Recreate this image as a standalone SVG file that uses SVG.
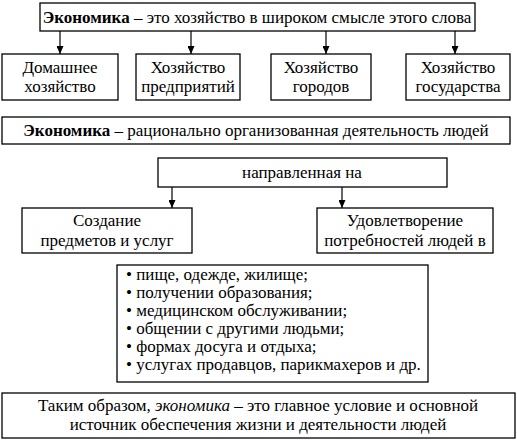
<svg xmlns="http://www.w3.org/2000/svg" width="517" height="440" viewBox="0 0 517 440" font-family="Times New Roman">
<defs>
<marker id="down" markerWidth="7" markerHeight="8" refX="3.5" refY="8" orient="0" markerUnits="userSpaceOnUse" viewBox="0 0 7 8">
<path d="M0,0 L7,0 L3.5,8 Z" fill="#000"/>
</marker>
<style>
.box{fill:#fff;stroke:#000;stroke-width:1.3}
.conn{stroke:#000;stroke-width:1.2;fill:none}
</style>
</defs>
<rect width="517" height="440" fill="#fff"/>
<g id="connectors">
<line class="conn" x1="60" y1="31" x2="60" y2="54" marker-end="url(#down)"/>
<line class="conn" x1="191" y1="31" x2="191" y2="54" marker-end="url(#down)"/>
<line class="conn" x1="326" y1="31" x2="326" y2="54" marker-end="url(#down)"/>
<line class="conn" x1="455" y1="31" x2="455" y2="54" marker-end="url(#down)"/>
<line class="conn" x1="172" y1="187" x2="172" y2="208" marker-end="url(#down)"/>
<line class="conn" x1="342" y1="187" x2="342" y2="208" marker-end="url(#down)"/>
</g>
<g id="top">
<rect class="box" x="40" y="3" width="435" height="28"/>
<text x="257" y="23" text-anchor="middle" font-family="Times New Roman" font-size="17"><tspan font-weight="bold">Экономика</tspan> – это хозяйство в широком смысле этого слова</text>
</g>
<g id="home">
<rect class="box" x="2" y="54" width="116" height="46"/>
<text x="60" y="73" text-anchor="middle" font-family="Times New Roman" font-size="17">Домашнее</text>
<text x="60" y="92" text-anchor="middle" font-family="Times New Roman" font-size="17">хозяйство</text>
</g>
<g id="ent">
<rect class="box" x="136" y="54" width="104" height="46"/>
<text x="188" y="73" text-anchor="middle" font-family="Times New Roman" font-size="17">Хозяйство</text>
<text x="188" y="92" text-anchor="middle" font-family="Times New Roman" font-size="17">предприятий</text>
</g>
<g id="city">
<rect class="box" x="271" y="54" width="100" height="46"/>
<text x="321" y="73" text-anchor="middle" font-family="Times New Roman" font-size="17">Хозяйство</text>
<text x="321" y="92" text-anchor="middle" font-family="Times New Roman" font-size="17">городов</text>
</g>
<g id="state">
<rect class="box" x="406" y="54" width="104" height="46"/>
<text x="458" y="73" text-anchor="middle" font-family="Times New Roman" font-size="17">Хозяйство</text>
<text x="458" y="92" text-anchor="middle" font-family="Times New Roman" font-size="17">государства</text>
</g>
<g id="rational">
<rect class="box" x="2" y="117" width="508" height="27"/>
<text x="256" y="136" text-anchor="middle" font-family="Times New Roman" font-size="17"><tspan font-weight="bold">Экономика</tspan> – рационально организованная деятельность людей</text>
</g>
<g id="directed">
<rect class="box" x="158" y="158" width="289" height="29"/>
<text x="302" y="178" text-anchor="middle" font-family="Times New Roman" font-size="17">направленная на</text>
</g>
<g id="create">
<rect class="box" x="22" y="208" width="170" height="45"/>
<text x="107" y="226" text-anchor="middle" font-family="Times New Roman" font-size="17">Создание</text>
<text x="107" y="246" text-anchor="middle" font-family="Times New Roman" font-size="17">предметов и услуг</text>
</g>
<g id="satisfy">
<rect class="box" x="317" y="208" width="176" height="45"/>
<text x="405" y="226" text-anchor="middle" font-family="Times New Roman" font-size="17">Удовлетворение</text>
<text x="405" y="246" text-anchor="middle" font-family="Times New Roman" font-size="17">потребностей людей в</text>
</g>
<g id="list">
<rect class="box" x="117" y="265" width="311" height="117"/>
<text x="126" y="280" font-family="Times New Roman" font-size="17">• пище, одежде, жилище;</text>
<text x="126" y="298" font-family="Times New Roman" font-size="17">• получении образования;</text>
<text x="126" y="316" font-family="Times New Roman" font-size="17">• медицинском обслуживании;</text>
<text x="126" y="334" font-family="Times New Roman" font-size="17">• общении с другими людьми;</text>
<text x="126" y="352" font-family="Times New Roman" font-size="17">• формах досуга и отдыха;</text>
<text x="126" y="370" font-family="Times New Roman" font-size="17">• услугах продавцов, парикмахеров и др.</text>
</g>
<g id="conclusion">
<rect class="box" x="2" y="393" width="513" height="45"/>
<text x="258" y="411" text-anchor="middle" font-family="Times New Roman" font-size="17">Таким образом, <tspan font-style="italic">экономика</tspan> – это главное условие и основной</text>
<text x="258" y="430" text-anchor="middle" font-family="Times New Roman" font-size="17">источник обеспечения жизни и деятельности людей</text>
</g>
</svg>
